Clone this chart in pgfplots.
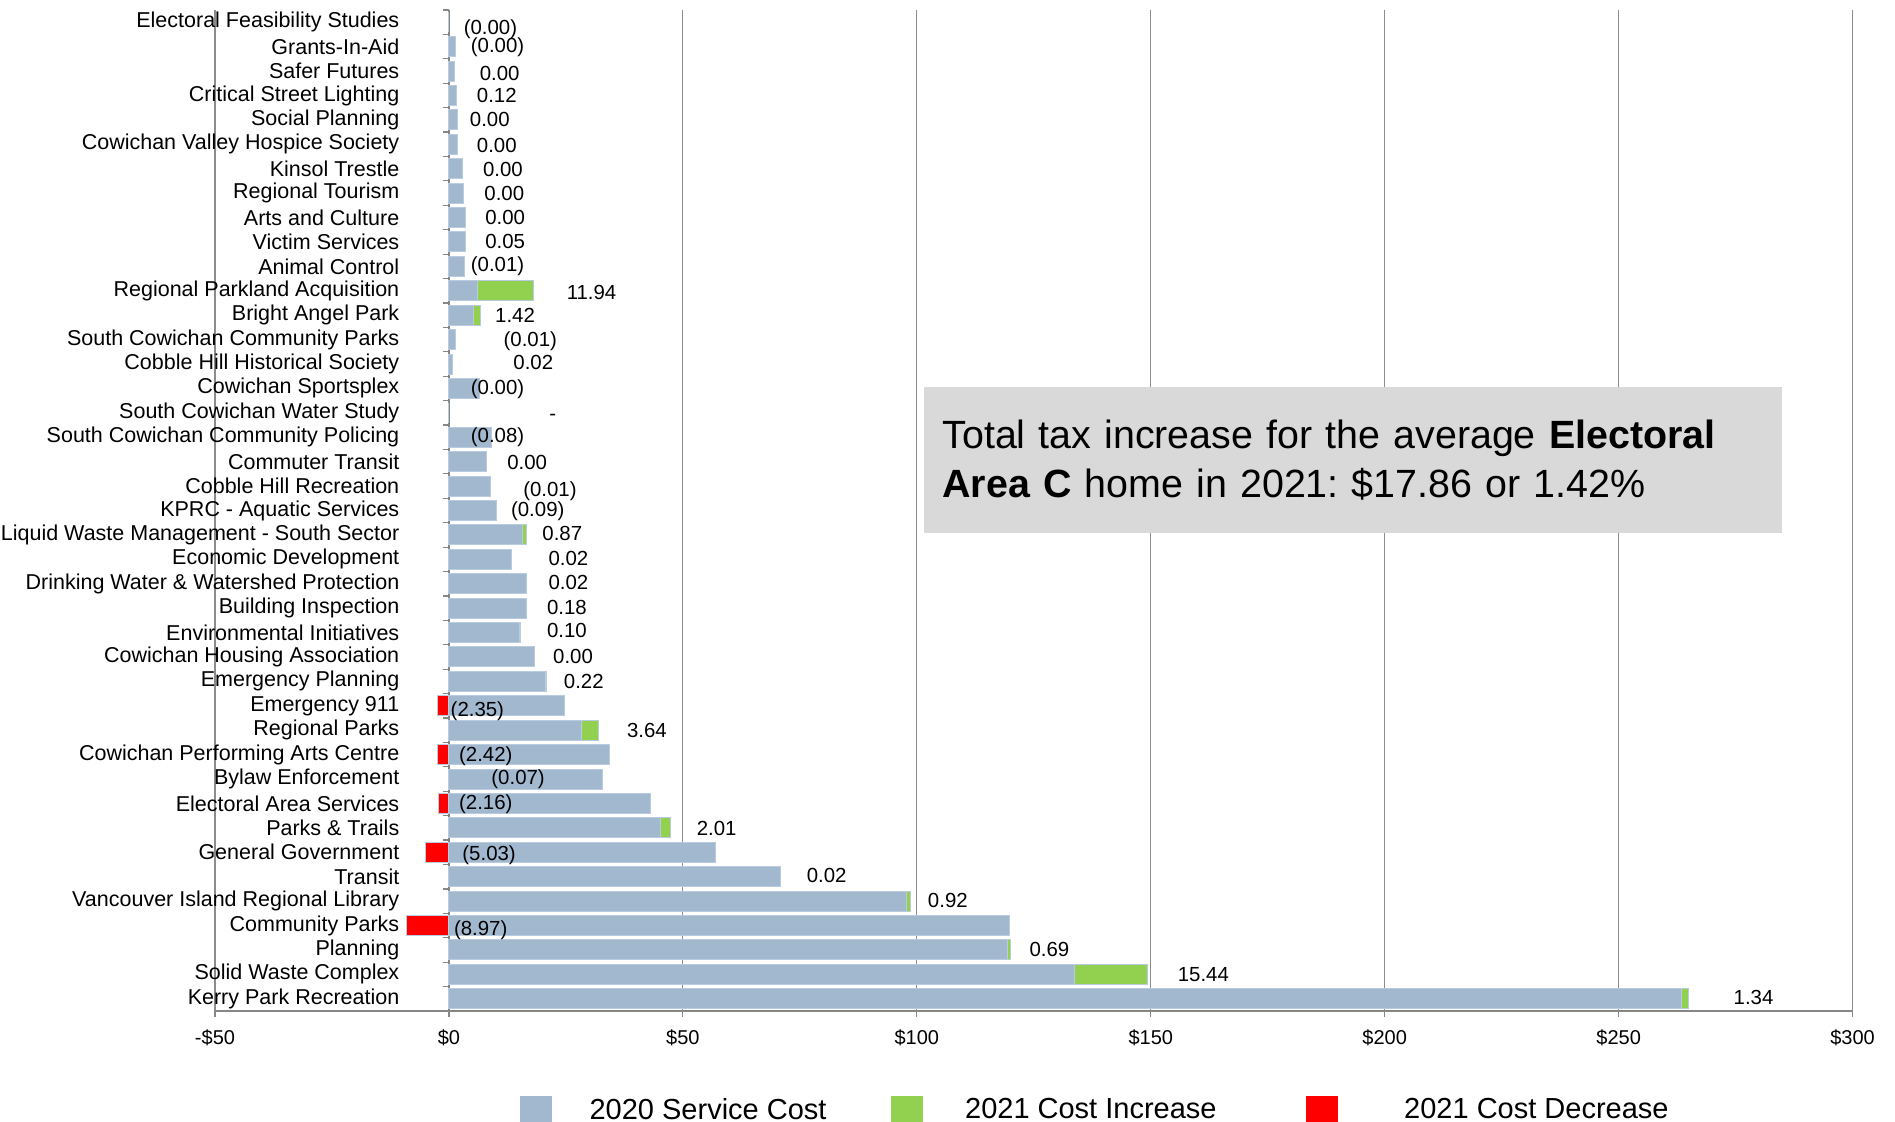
\documentclass[border=0pt]{standalone}
\usepackage{fontspec}
\setmainfont{Liberation Sans}
\usepackage{pgfplots}
\usepackage{pgfplotstable}
\pgfplotsset{compat=1.18}
\definecolor{barblue}{HTML}{A2B8CF}
\definecolor{baredge}{HTML}{B9CBDF}
\definecolor{bargreen}{HTML}{92D050}
\definecolor{barred}{HTML}{FF0000}
\definecolor{gridgray}{HTML}{8C8C8C}
\definecolor{axisgray}{HTML}{868686}
\definecolor{boxgray}{HTML}{D9D9D9}

% idx = row from the top; base = 2020 cost; inc/dec = 2021 change; lx, ly = label position
\pgfplotstableread{
idx base inc dec lx ly lab
1 0 0 0 3.1 1.29 (0.00)
2 1.5 0 0 4.6 2.03 (0.00)
3 1.2 0 0 6.5 3.12 0.00
4 1.6 0.12 0 5.9 4.01 0.12
5 1.9 0 0 4.4 5.0 0.00
6 1.9 0 0 5.9 6.03 0.00
7 3.0 0 0 7.2 7.02 0.00
8 3.2 0 0 7.5 8.0 0.00
9 3.55 0 0 7.7 8.99 0.00
10 3.55 0.05 0 7.7 9.98 0.05
11 3.4 0 0.01 4.6 10.98 (0.01)
12 6.2 11.94 0 25.1 12.07 11.94
13 5.3 1.42 0 9.8 13.0 1.42
14 1.4 0 0.01 11.6 14.05 (0.01)
15 0.7 0.02 0 13.7 14.94 0.02
16 6.6 0 0 4.6 16.03 (0.00)
17 0 0 0 21.4 17.17 -
18 9.0 0 0.08 4.6 18.01 (0.08)
19 8.0 0 0 12.4 19.05 0.00
20 8.8 0 0.01 15.8 20.23 (0.01)
21 10.1 0 0.09 13.2 21.02 (0.09)
22 15.7 0.87 0 19.9 21.96 0.87
23 13.3 0.02 0 21.2 22.95 0.02
24 16.6 0.02 0 21.2 23.94 0.02
25 16.5 0.18 0 20.9 24.98 0.18
26 15.1 0.10 0 20.9 25.92 0.10
27 18.2 0 0 22.2 26.96 0.00
28 20.6 0.22 0 24.5 28.0 0.22
29 24.8 0 2.35 0.3 29.23 (2.35)
30 28.3 3.64 0 38.0 30.0 3.64
31 34.4 0 2.42 2.1 31.06 (2.42)
32 32.9 0 0.07 9.0 32.0 (0.07)
33 43.0 0 2.16 2.1 33.04 (2.16)
34 45.3 2.01 0 52.9 34.03 2.01
35 56.9 0 5.03 2.8 35.12 (5.03)
36 70.9 0.02 0 76.4 35.96 0.02
37 97.7 0.92 0 102.3 36.99 0.92
38 119.9 0 8.97 1.0 38.19 (8.97)
39 119.4 0.69 0 124.0 38.97 0.69
40 133.8 15.44 0 155.7 39.99 15.44
41 263.5 1.34 0 274.5 40.94 1.34
}\data

\begin{document}
\begin{tikzpicture}
\begin{axis}[
  scale only axis, width=818.8pt, height=500.5pt,
  xmin=-50, xmax=300, ymin=0.5, ymax=41.5,
  axis x line=bottom, axis y line=middle,
  axis line style={-, draw=axisgray, line width=1.2pt},
  xtick={-50,0,50,100,150,200,250,300},
  xticklabels={-\$50,\$0,\$50,\$100,\$150,\$200,\$250,\$300},
  xmajorgrids, grid style={draw=gridgray, line width=0.6pt},
  xtick style={draw=axisgray, line width=0.6pt},
  tick align=outside, major tick length=3pt,
  ytick={1,...,41},
  yticklabels={Kerry Park Recreation, Solid Waste Complex, Planning, Community Parks, Vancouver Island Regional Library, Transit, General Government, Parks \& Trails, Electoral Area Services, Bylaw Enforcement, Cowichan Performing Arts Centre, Regional Parks, Emergency 911, Emergency Planning, Cowichan Housing Association, Environmental Initiatives, Building Inspection, Drinking Water \& Watershed Protection, Economic Development, Liquid Waste Management - South Sector, KPRC - Aquatic Services, Cobble Hill Recreation, Commuter Transit, South Cowichan Community Policing, South Cowichan Water Study, Cowichan Sportsplex, Cobble Hill Historical Society, South Cowichan Community Parks, Bright Angel Park, Regional Parkland Acquisition, Animal Control, Victim Services, Arts and Culture, Regional Tourism, Kinsol Trestle, Cowichan Valley Hospice Society, Social Planning, Critical Street Lighting, Safer Futures, Grants-In-Aid, Electoral Feasibility Studies},
  ytick style={draw=none},
  extra y ticks={0.5,1.5,...,41.5}, extra y tick labels={},
  extra y tick style={ytick style={draw=axisgray, line width=0.6pt}, tick align=outside, major tick length=3pt},
  hide obscured x ticks=false, hide obscured y ticks=false,
  tick label style={font=\fontsize{10}{12}\selectfont, text=black},
  xticklabel style={yshift=-3pt},
  yticklabel style={font=\fontsize{10.75}{12}\selectfont, xshift=-18.3pt},
  clip=false,
  legend columns=3,
  legend image code/.code={\fill[#1, draw=none] (0pt,-12pt) rectangle (16pt,7.2pt);},
  legend style={draw=none, fill=none, inner sep=0pt, at={(0,0)}, anchor=west,
    xshift=152.5pt, yshift=-51.6pt, font=\fontsize{14.5}{17}\selectfont,
    /tikz/column 1/.style={column sep=16.6pt},
    /tikz/column 2/.style={column sep=30.2pt},
    /tikz/column 3/.style={column sep=19.1pt},
    /tikz/column 4/.style={column sep=42.7pt},
    /tikz/column 5/.style={column sep=31.1pt}},
]
\coordinate (SW) at (rel axis cs:0,0);
% green: base + increase, drawn first; blue base drawn over it
\addplot[xbar, bar width=10pt, bar shift=0pt, fill=bargreen, draw=baredge, line width=0.5pt, forget plot]
  table[x expr={\thisrow{inc}>0 ? \thisrow{base}+\thisrow{inc} : nan}, y expr=42-\thisrow{idx}] {\data};
\addplot[xbar, bar width=10pt, bar shift=0pt, fill=barblue, draw=baredge, line width=0.5pt, forget plot]
  table[x=base, y expr=42-\thisrow{idx}] {\data};
\addplot[xbar, bar width=10pt, bar shift=0pt, fill=barred, draw=baredge, line width=0.5pt, forget plot]
  table[x expr={\thisrow{dec}>0 ? -\thisrow{dec} : nan}, y expr=42-\thisrow{idx}] {\data};
% data labels
\addplot[only marks, mark=none,
  nodes near coords, point meta=explicit symbolic,
  every node near coord/.style={anchor=west, inner sep=0pt, font=\fontsize{10.2}{12}\selectfont, text=black},
  forget plot]
  table[x=lx, y expr=42-\thisrow{ly}, meta=lab] {\data};
\addlegendimage{fill=barblue}
\addlegendentry{2020 Service Cost}
\addlegendimage{fill=bargreen}
\addlegendentry{2021 Cost Increase}
\addlegendimage{fill=barred}
\addlegendentry{2021 Cost Decrease}
\node[fill=boxgray, anchor=north west, minimum width=429pt, minimum height=73.3pt,
  text width=411pt, inner xsep=9pt, inner ysep=0pt, align=left,
  font=\fontsize{19.7}{24.2}\selectfont] at (rel axis cs:0.433,0.624)
  {\frenchspacing Total tax increase for the average \textbf{Electoral}\\\textbf{Area C} home in 2021: \$17.86 or 1.42\%};
\end{axis}
\pgfresetboundingbox
\path[use as bounding box] (SW) ++(-107.5pt,-55.5pt) rectangle ++(947.5pt,561pt);
\end{tikzpicture}
\end{document}
